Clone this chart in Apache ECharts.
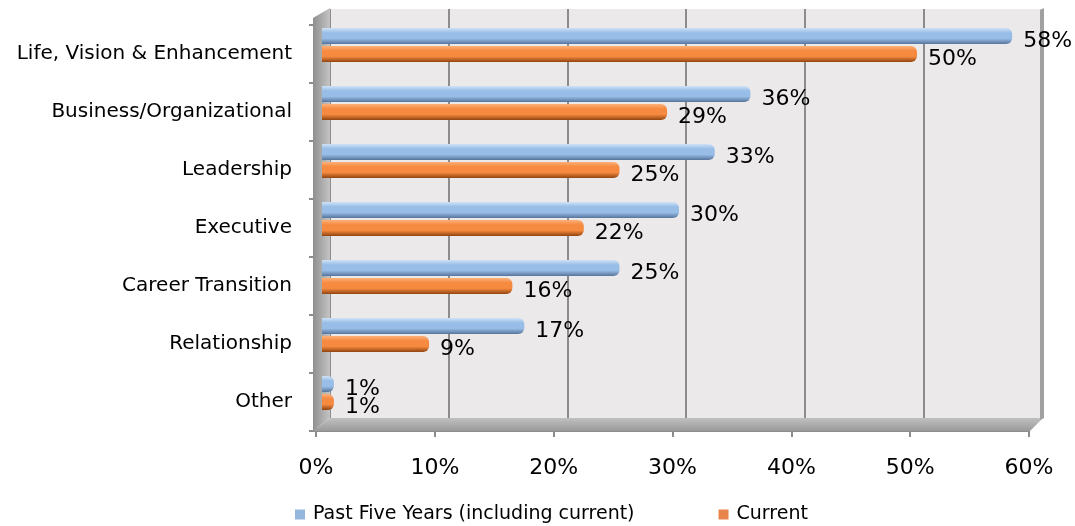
<!DOCTYPE html>
<html><head><meta charset="utf-8">
<script src="https://cdn.jsdelivr.net/npm/echarts@6/dist/echarts.min.js"></script>
<style>html,body{margin:0;padding:0;background:#fff}#c{width:1075px;height:526px}</style>
</head><body><div id="c"></div>
<script>
const categories = ['Life, Vision & Enhancement','Business/Organizational','Leadership','Executive','Career Transition','Relationship','Other'];
const pastFive = [58, 36, 33, 30, 25, 17, 1];
const current = [50, 29, 25, 22, 16, 9, 1];
const seriesNames = ['Past Five Years (including current)', 'Current'];
const xTicks = [0, 10, 20, 30, 40, 50, 60];

const FONT = 'DejaVu Sans';
const chart = echarts.init(document.getElementById('c'));
function cyl(top, mid, bot) {
  return new echarts.graphic.LinearGradient(0, 0, 0, 1, [
    {offset: 0, color: top}, {offset: 0.3, color: mid}, {offset: 0.65, color: mid}, {offset: 1, color: bot}
  ]);
}
const labelCfg = {
  show: true, position: 'right', distance: 11, offset: [0, 5],
  formatter: p => p.value + '%', fontFamily: FONT, fontSize: 22, color: '#000'
};
chart.setOption({
  animation: false,
  textStyle: {fontFamily: FONT},
  graphic: [
    {type: 'polygon', z: 1, shape: {points: [[313,18],[330,8],[330,418],[313,431]]},
     style: {fill: new echarts.graphic.LinearGradient(0,0,1,0,[{offset:0,color:'#8f8f8f'},{offset:1,color:'#c4c4c4'}])}},
    {type: 'polygon', z: 1, shape: {points: [[313,431],[330,418],[1043,418],[1030,431]]},
     style: {fill: new echarts.graphic.LinearGradient(0,0,0,1,[{offset:0,color:'#c0c0c0'},{offset:1,color:'#9a9a9a'}])}},
    {type: 'polygon', z: 1, shape: {points: [[1040,10],[1044,8],[1044,418],[1040,420]]},
     style: {fill: '#a0a0a0'}}
  ],
  grid: [
    {left: 330, right: 33, top: 9, bottom: 108, show: true, backgroundColor: '#ece9ea', borderWidth: 0, z: 0},
    {left: 322, right: 39, top: 16, bottom: 104},
    {left: 316, right: 46, top: 25, bottom: 95}
  ],
  xAxis: [
    {gridIndex: 0, type: 'value', min: 0, max: 60, interval: 10,
     axisLine: {show: false}, axisTick: {show: false}, axisLabel: {show: false},
     splitLine: {show: true, lineStyle: {color: '#8c8c8c', width: 2}}},
    {gridIndex: 1, type: 'value', min: 0, max: 60, interval: 10, show: false},
    {gridIndex: 2, type: 'value', min: 0, max: 60, interval: 10,
     axisLine: {show: true, lineStyle: {color: '#8c8c8c', width: 2}},
     axisTick: {show: true, length: 6, lineStyle: {color: '#8c8c8c', width: 2}},
     splitLine: {show: false},
     axisLabel: {margin: 26, fontSize: 22, color: '#000', fontFamily: FONT, formatter: v => v + '%'}}
  ],
  yAxis: [
    {gridIndex: 0, type: 'category', data: categories, inverse: true, show: false},
    {gridIndex: 1, type: 'category', data: categories, inverse: true, show: false},
    {gridIndex: 2, type: 'category', data: categories, inverse: true,
     axisLine: {show: true, lineStyle: {color: '#8c8c8c', width: 2}},
     axisTick: {show: true, length: 7, lineStyle: {color: '#8c8c8c', width: 2}},
     axisLabel: {margin: 24, fontSize: 20, color: '#000', fontFamily: FONT}}
  ],
  legend: {
    data: [
      {name: seriesNames[0], itemStyle: {color: '#95b6dd'}},
      {name: seriesNames[1], itemStyle: {color: '#e8854a'}}
    ],
    left: 290, top: 500, itemWidth: 10, itemHeight: 10, itemGap: 84,
    icon: 'rect', textStyle: {fontSize: 19, color: '#000', fontFamily: FONT, padding: [0, 0, 0, 3]}
  },
  series: [
    {name: seriesNames[0], type: 'bar', xAxisIndex: 1, yAxisIndex: 1, data: pastFive,
     barWidth: 16, barGap: '12%', z: 3,
     itemStyle: {color: cyl('#cfe2f7', '#98bde7', '#56749a'), borderRadius: [0, 6, 6, 0]},
     label: labelCfg},
    {name: seriesNames[1], type: 'bar', xAxisIndex: 1, yAxisIndex: 1, data: current,
     barWidth: 16, barGap: '12%', z: 3,
     itemStyle: {color: cyl('#fcb07a', '#f68a40', '#924510'), borderRadius: [0, 6, 6, 0]},
     label: labelCfg}
  ]
});
</script></body></html>
